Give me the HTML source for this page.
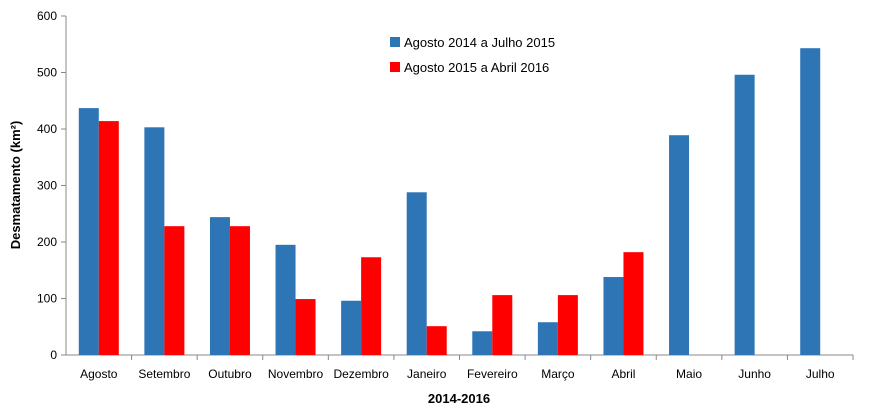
<!DOCTYPE html>
<html><head><meta charset="utf-8"><style>
body{margin:0;background:#fff;font-family:"Liberation Sans",sans-serif;}
svg text{font-family:"Liberation Sans",sans-serif;fill:#000;}
</style></head><body>
<svg id="chart" width="886" height="415">
<g id="axes"></g>
<g id="bars"></g>
<text x="20" y="185" font-size="13" font-weight="bold" text-anchor="middle" transform="rotate(-90 20 185)">Desmatamento (km²)</text>
<text x="459" y="403" font-size="13" font-weight="bold" text-anchor="middle">2014-2016</text>
<g>
<rect x="390" y="37" width="10" height="10" fill="#2e75b6"/>
<text x="404" y="47" font-size="13">Agosto 2014 a Julho 2015</text>
<rect x="390" y="62" width="10" height="10" fill="#ff0000"/>
<text x="404" y="72" font-size="13">Agosto 2015 a Abril 2016</text>
</g>
</svg>
<script>
const categories=["Agosto","Setembro","Outubro","Novembro","Dezembro","Janeiro","Fevereiro","Março","Abril","Maio","Junho","Julho"];
const series2014=[437,403,244,195,96,288,42,58,138,389,496,543];
const series2015=[414,228,228,99,173,51,106,106,182,null,null,null];
const yTicks=[0,100,200,300,400,500,600];
const NS="http://www.w3.org/2000/svg";
const X0=66,X1=853,Y0=355,Y1=16;
const bw=(X1-X0)/categories.length;
function y(v){return Y0-(v/600)*(Y0-Y1);}
function mk(tag,attrs,parent){const e=document.createElementNS(NS,tag);for(const k in attrs)e.setAttribute(k,attrs[k]);parent.appendChild(e);return e;}
const axes=document.getElementById('axes'),bars=document.getElementById('bars');
let l=mk('line',{x1:X0,y1:Y1,x2:X0,y2:Y0,stroke:'#888'},axes);


l=mk('line',{x1:X0,y1:Y0,x2:X1,y2:Y0,stroke:'#888'},axes);


yTicks.forEach(t=>{
 const tk=mk('line',{x1:X0-5,y1:y(t),x2:X0,y2:y(t),stroke:'#888'},axes);
 
 
 const tx=mk('text',{x:X0-9,y:y(t)+4,'font-size':12,'text-anchor':'end'},axes);
 tx.textContent=t;
 
 
});
categories.forEach((c,i)=>{
 const cx=X0+bw*(i+0.5);
 const tk=mk('line',{x1:X0+bw*(i+1),y1:Y0,x2:X0+bw*(i+1),y2:Y0+5,stroke:'#888'},axes);
 
 
 const tx=mk('text',{x:cx,y:Y0+23,'font-size':12,'text-anchor':'middle'},axes);
 tx.textContent=c;
 
 
 const v1=series2014[i];
 if(v1!=null){const r=mk('rect',{x:cx-20,y:y(v1),width:20,height:Y0-y(v1),fill:'#2e75b6'},bars);
 
 }
 const v2=series2015[i];
 if(v2!=null){const r=mk('rect',{x:cx,y:y(v2),width:20,height:Y0-y(v2),fill:'#ff0000'},bars);
 
 }
});
</script>
</body></html>
